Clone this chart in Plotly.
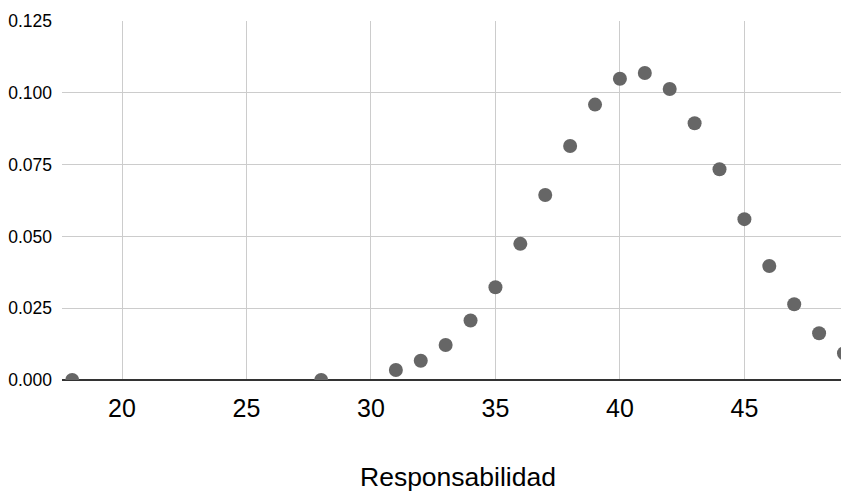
import plotly.graph_objects as go

responsabilidad = [18, 28, 31, 32, 33, 34, 35, 36, 37, 38, 39, 40, 41, 42, 43, 44, 45, 46, 47, 48, 49]
densidad = [0.0, 0.0, 0.0035, 0.0067, 0.0122, 0.0207, 0.0323, 0.0474, 0.0644, 0.0815, 0.0959,
            0.1049, 0.1069, 0.1013, 0.0894, 0.0734, 0.0560, 0.0397, 0.0264, 0.0163, 0.0093]

x_ticks = [20, 25, 30, 35, 40, 45]
y_ticks = [0.0, 0.025, 0.05, 0.075, 0.1, 0.125]
x_title = "Responsabilidad"

fig = go.Figure()
fig.add_trace(go.Scatter(
    x=responsabilidad, y=densidad, mode="markers",
    marker=dict(size=14, color="#666666"),
    cliponaxis=True, showlegend=False,
))

fig.update_layout(
    width=841, height=491,
    margin=dict(l=62, r=0, t=21, b=111),
    paper_bgcolor="white", plot_bgcolor="white",
    font=dict(family="Liberation Sans, Arial, sans-serif", color="#000000"),
    xaxis=dict(
        range=[17.59, 48.88], tickvals=x_ticks, ticktext=[str(v) for v in x_ticks],
        showgrid=True, gridcolor="#cccccc", gridwidth=1,
        zeroline=False, showline=False, ticks="",
        tickfont=dict(size=25), ticklabelstandoff=11,
    ),
    yaxis=dict(
        range=[0, 0.125], tickvals=y_ticks, ticktext=[f"{v:.3f}" for v in y_ticks],
        showgrid=True, gridcolor="#cccccc", gridwidth=1,
        zeroline=True, zerolinecolor="#333333", zerolinewidth=1.5,
        showline=False, ticks="", tickfont=dict(size=17.5), ticklabelstandoff=9,
    ),
    annotations=[dict(
        text=x_title, xref="paper", yref="paper", x=0.508, y=0,
        yshift=-97, xanchor="center", yanchor="middle", showarrow=False,
        font=dict(size=26.5, color="#000000"),
    )],
)

fig.write_html("out.html", config={"displayModeBar": False},
               post_script="document.body.style.margin='0';")
